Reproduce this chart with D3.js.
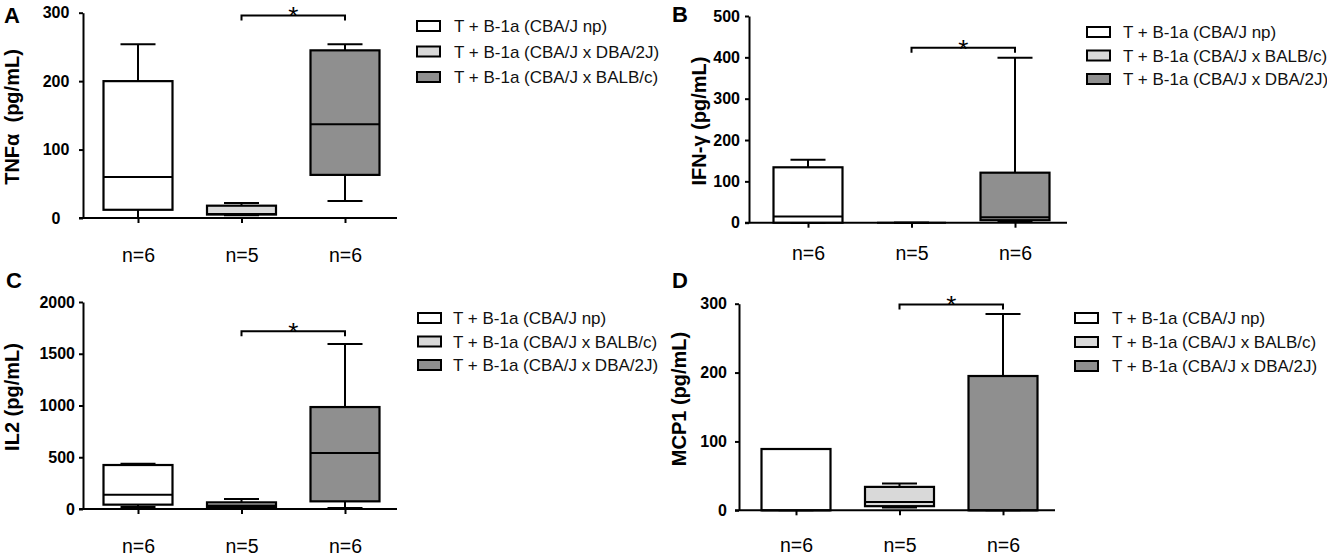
<!DOCTYPE html>
<html>
<head>
<meta charset="utf-8">
<script src="https://cdn.jsdelivr.net/npm/d3@7"></script>
<style>
  body { margin: 0; background: #fff; }
  svg { display: block; font-family: "Liberation Sans", Arial, sans-serif; }
</style>
</head>
<body>
<script>
// groups shown on every panel
var groups = ['np', 'x1', 'x2'];
var nLabels = ['n=6', 'n=5', 'n=6'];
var fills = ['#ffffff', '#d9d9d9', '#8f8f8f'];

// legend texts (panel A lists the crosses in the other order)
var legendA = ['T + B-1a (CBA/J np)', 'T + B-1a (CBA/J x DBA/2J)', 'T + B-1a (CBA/J x BALB/c)'];
var legendB = ['T + B-1a (CBA/J np)', 'T + B-1a (CBA/J x BALB/c)', 'T + B-1a (CBA/J x DBA/2J)'];

// box stats per group: [min, q1, median, q3, max]
var tnfStats = [[0, 12, 60, 200, 254], [4, 5, 6, 18, 22], [25, 63, 137, 245, 254]];
var ifnStats = [[0, 0, 15, 134, 152], [0, 0, 0, 0, 0], [3, 6, 13, 121, 399]];
var il2Stats = [[20, 42, 138, 425, 438], [10, 20, 35, 64, 97], [10, 74, 541, 985, 1594]];
var mcpStats = [[0, 0, 0, 89, 89], [4, 6, 12, 34, 39], [0, 0, 0, 195, 285]];

// y ticks
var tnfTicks = [0, 100, 200, 300];
var ifnTicks = [0, 100, 200, 300, 400, 500];
var il2Ticks = [0, 500, 1000, 1500, 2000];
var mcpTicks = [0, 100, 200, 300];

// significance brackets: [from group, to group, y value]
var tnfSig = [1, 2, 296];
var ifnSig = [1, 2, 423];
var il2Sig = [1, 2, 1717];
var mcpSig = [1, 2, 299];

var panels = [
  { letter: 'A', lx: 4, ly: 23, label: 'TNF\u03b1\u00a0 (pg/mL)', labX: 19, labY: 117,
    stats: tnfStats, ticks: tnfTicks, sig: tnfSig, legend: legendA,
    axisX: 83, firstC: 138, y0: 218, yTop: 12.7, tickGap: 27, centerTicks: true, nGap: 44,
    legX: 417, legY: 26, legStep: 25.5, legTextX: 454 },
  { letter: 'B', lx: 672, ly: 22, label: 'IFN-\u03b3 (pg/mL)', labX: 706, labY: 121,
    stats: ifnStats, ticks: ifnTicks, sig: ifnSig, legend: legendB,
    axisX: 749, firstC: 808, y0: 222.7, yTop: 16, tickGap: 9, centerTicks: false, nGap: 37,
    legX: 1087, legY: 32, legStep: 23.5, legTextX: 1123 },
  { letter: 'C', lx: 6, ly: 288, label: 'IL2 (pg/mL)', labX: 19, labY: 397,
    stats: il2Stats, ticks: il2Ticks, sig: il2Sig, legend: legendB,
    axisX: 83, firstC: 138, y0: 509, yTop: 302, tickGap: 8, centerTicks: false, nGap: 44,
    legX: 418, legY: 318, legStep: 23.5, legTextX: 453 },
  { letter: 'D', lx: 672, ly: 288, label: 'MCP1 (pg/mL)', labX: 686, labY: 399,
    stats: mcpStats, ticks: mcpTicks, sig: mcpSig, legend: legendB,
    axisX: 739, firstC: 796, y0: 510.3, yTop: 303.7, tickGap: 12, centerTicks: false, nGap: 42,
    legX: 1075, legY: 318, legStep: 24, legTextX: 1112 }
];

var boxW = 69;
var capW = 35;

var svg = d3.select('body').append('svg')
    .attr('width', 1327)
    .attr('height', 556);

panels.forEach(function (p) {
    var g = svg.append('g');
    var yMax = p.ticks[p.ticks.length - 1];
    var y = d3.scaleLinear().domain([0, yMax]).range([p.y0, p.yTop]);
    var x = d3.scalePoint().domain(groups).range([p.firstC, p.firstC + 207]);
    var axisEnd = p.firstC + 207 + 52;

    // y axis
    var ya = g.append('g')
        .attr('transform', 'translate(' + p.axisX + ',0)')
        .call(d3.axisLeft(y).tickValues(p.ticks).tickSize(4).tickSizeOuter(0).tickFormat(d3.format('d')));
    ya.select('.domain').attr('stroke-width', 2);
    ya.selectAll('.tick line').attr('stroke-width', 2);
    ya.selectAll('.tick text')
        .attr('x', p.centerTicks ? -(p.axisX - 56) : -p.tickGap)
        .attr('text-anchor', p.centerTicks ? 'middle' : 'end')
        .style('font-size', '16px')
        .style('font-weight', 'bold')
        .attr('fill', '#000');

    // x axis
    var xa = g.append('g')
        .attr('transform', 'translate(0,' + p.y0 + ')')
        .call(d3.axisBottom(x).tickSize(5).tickPadding(p.nGap - 5 - 0.71 * 19.5)
            .tickFormat(function (d, i) { return nLabels[i]; }));
    xa.select('.domain').remove();
    xa.selectAll('.tick line').attr('stroke-width', 2);
    xa.selectAll('.tick text').style('font-size', '19.5px').attr('fill', '#000');
    g.append('line')
        .attr('x1', p.axisX - 4).attr('x2', axisEnd)
        .attr('y1', p.y0).attr('y2', p.y0)
        .attr('stroke', '#000').attr('stroke-width', 2);

    // boxes
    var box = g.selectAll('g.box').data(p.stats).enter().append('g').attr('class', 'box');
    var cx = function (d, i) { return x(groups[i]); };
    box.append('line')
        .attr('x1', cx).attr('x2', cx)
        .attr('y1', function (d) { return y(d[4]); })
        .attr('y2', function (d) { return y(d[0]); })
        .attr('stroke', '#000').attr('stroke-width', 2);
    [0, 4].forEach(function (k) {
        box.append('line')
            .attr('x1', function (d, i) { return cx(d, i) - capW / 2; })
            .attr('x2', function (d, i) { return cx(d, i) + capW / 2; })
            .attr('y1', function (d) { return y(d[k]); })
            .attr('y2', function (d) { return y(d[k]); })
            .attr('stroke', '#000').attr('stroke-width', 2);
    });
    box.append('rect')
        .attr('x', function (d, i) { return cx(d, i) - boxW / 2; })
        .attr('y', function (d) { return y(d[3]); })
        .attr('width', boxW)
        .attr('height', function (d) { return y(d[1]) - y(d[3]); })
        .attr('fill', function (d, i) { return fills[i]; })
        .attr('stroke', '#000').attr('stroke-width', 2.2);
    box.append('line')
        .attr('x1', function (d, i) { return cx(d, i) - boxW / 2; })
        .attr('x2', function (d, i) { return cx(d, i) + boxW / 2; })
        .attr('y1', function (d) { return y(d[2]); })
        .attr('y2', function (d) { return y(d[2]); })
        .attr('stroke', '#000').attr('stroke-width', 2);

    // significance bracket
    var sx1 = x(groups[p.sig[0]]), sx2 = x(groups[p.sig[1]]), sy = y(p.sig[2]);
    g.append('path')
        .attr('d', 'M' + sx1 + ',' + (sy + 5) + 'V' + sy + 'H' + sx2 + 'V' + (sy + 5))
        .attr('fill', 'none').attr('stroke', '#000').attr('stroke-width', 2);
    g.append('text')
        .attr('x', (sx1 + sx2) / 2).attr('y', sy + 10)
        .attr('text-anchor', 'middle')
        .style('font-size', '26px')
        .text('*');

    // y label
    g.append('text')
        .attr('transform', 'translate(' + p.labX + ',' + p.labY + ') rotate(-90)')
        .attr('text-anchor', 'middle')
        .style('font-size', '20px')
        .style('font-weight', 'bold')
        .text(p.label);

    // panel letter
    g.append('text')
        .attr('x', p.lx).attr('y', p.ly)
        .style('font-size', '22px')
        .style('font-weight', 'bold')
        .text(p.letter);

    // legend
    var leg = g.selectAll('g.leg').data(p.legend).enter().append('g').attr('class', 'leg')
        .attr('transform', function (d, i) { return 'translate(0,' + (p.legY + i * p.legStep) + ')'; });
    leg.append('rect')
        .attr('x', p.legX).attr('y', -5)
        .attr('width', 23).attr('height', 10)
        .attr('fill', function (d, i) { return fills[i]; })
        .attr('stroke', '#000').attr('stroke-width', 2);
    leg.append('text')
        .attr('x', p.legTextX).attr('y', 0).attr('dy', '0.36em')
        .style('font-size', '17px')
        .attr('fill', '#111')
        .text(function (d) { return d; });
});
</script>
</body>
</html>
